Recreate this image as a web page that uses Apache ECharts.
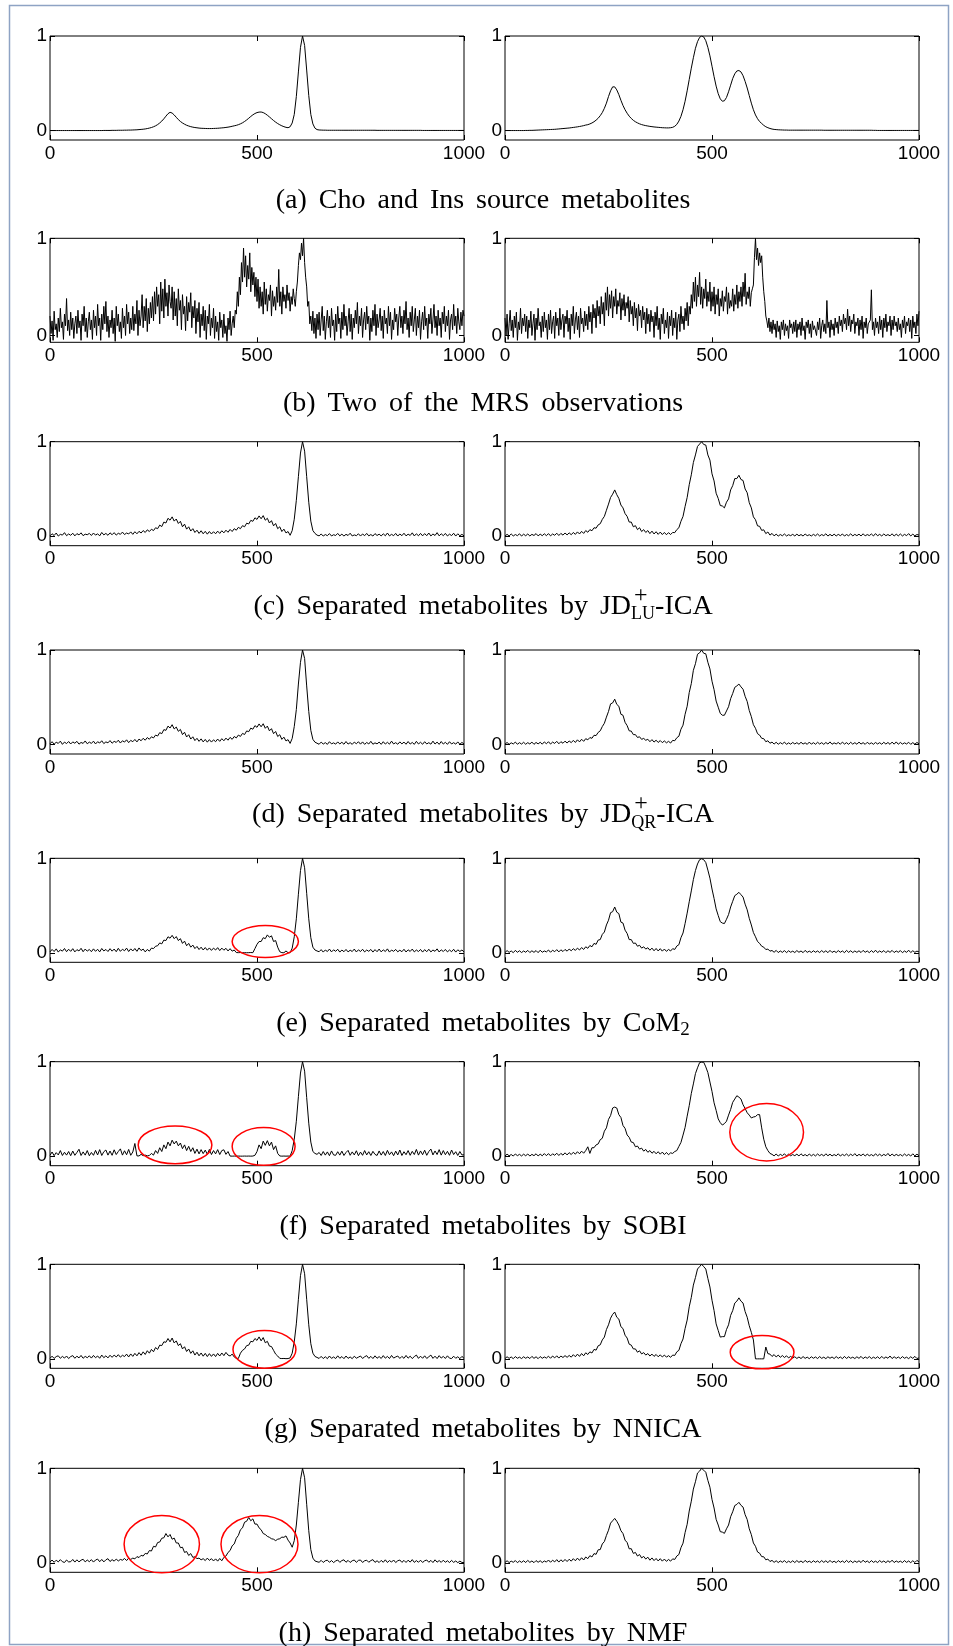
<!DOCTYPE html>
<html><head><meta charset="utf-8">
<script src="https://cdn.jsdelivr.net/npm/echarts@6.0.0/dist/echarts.min.js"></script>
<style>html,body{margin:0;padding:0;background:#fff}#c{width:953px;height:1646px}</style>
</head><body><div id="c"></div>
<script>
// sample spacing of the spectra (index -> x)
const xStep = 5;     // separated / source spectra
const xStepObs = 2.5; // noisy MRS observations
const xTicks = [0, 500, 1000];
const yTicks = [0, 1];

// (a) source metabolites
const A_L = [0,0,0,0,0,0,0,0,0,0,
0,0,0,0,0,0,0,0,0,0,
0,0,0,0,0,0,0.001,0.001,0.001,0.001,
0.002,0.002,0.002,0.003,0.003,0.003,0.004,0.004,0.005,0.005,
0.006,0.007,0.008,0.01,0.012,0.014,0.017,0.021,0.026,0.032,
0.04,0.05,0.063,0.08,0.1,0.124,0.152,0.178,0.193,0.185,
0.165,0.14,0.116,0.096,0.08,0.067,0.056,0.048,0.041,0.036,
0.032,0.029,0.026,0.024,0.023,0.022,0.021,0.021,0.021,0.022,
0.023,0.024,0.026,0.028,0.03,0.033,0.036,0.04,0.045,0.05,
0.055,0.062,0.071,0.082,0.096,0.112,0.13,0.149,0.166,0.18,
0.19,0.195,0.196,0.19,0.178,0.162,0.144,0.125,0.106,0.089,
0.074,0.061,0.05,0.041,0.034,0.03,0.04,0.08,0.17,0.36,
0.62,0.88,1,0.9,0.64,0.37,0.17,0.07,0.025,0.01,
0.006,0.005,0.004,0.004,0.003,0.003,0.003,0.003,0.003,0.003,
0.003,0.003,0.003,0.003,0.003,0.003,0.003,0.003,0.003,0.003,
0.003,0.003,0.003,0.003,0.003,0.003,0.003,0.003,0.002,0.002,
0.002,0.002,0.002,0.002,0.002,0.002,0.002,0.002,0.002,0.002,
0.002,0.002,0.002,0.002,0.002,0.002,0.002,0.002,0.002,0.002,
0.001,0.001,0.001,0.001,0.001,0.001,0.001,0.001,0.001,0.001,
0.001,0.001,0.001,0.001,0.001,0.001,0.001,0.001,0.001,0.001,
0.001];
const A_R = [0,0,0,0,0,0,0,0,0,0,
0.001,0.001,0.002,0.002,0.003,0.004,0.005,0.006,0.007,0.008,
0.009,0.01,0.011,0.012,0.013,0.015,0.017,0.019,0.021,0.023,
0.025,0.027,0.03,0.033,0.036,0.039,0.043,0.047,0.052,0.058,
0.062,0.07,0.08,0.093,0.11,0.13,0.157,0.19,0.235,0.29,
0.36,0.42,0.462,0.462,0.43,0.38,0.32,0.265,0.22,0.183,
0.152,0.128,0.108,0.093,0.081,0.071,0.063,0.057,0.052,0.048,
0.044,0.041,0.038,0.036,0.034,0.032,0.03,0.029,0.028,0.028,
0.03,0.034,0.045,0.065,0.1,0.15,0.22,0.31,0.42,0.54,
0.66,0.77,0.87,0.94,0.985,1,0.99,0.95,0.88,0.79,
0.68,0.57,0.47,0.39,0.335,0.31,0.315,0.35,0.41,0.48,
0.55,0.6,0.63,0.635,0.62,0.58,0.52,0.45,0.37,0.29,
0.22,0.165,0.125,0.095,0.075,0.055,0.04,0.03,0.022,0.016,
0.012,0.01,0.008,0.007,0.006,0.005,0.005,0.004,0.004,0.004,
0.004,0.004,0.004,0.004,0.004,0.004,0.004,0.004,0.004,0.004,
0.004,0.004,0.004,0.004,0.003,0.003,0.003,0.003,0.003,0.003,
0.003,0.003,0.003,0.003,0.003,0.003,0.003,0.003,0.003,0.003,
0.003,0.003,0.003,0.003,0.003,0.003,0.003,0.003,0.002,0.002,
0.001,0.001,0.001,0.001,0.001,0.001,0.001,0.001,0.001,0.001,
0.001,0.001,0.001,0.001,0.001,0.001,0.001,0.001,0.001,0.001,
0.001];

// (b) two MRS observations (x step 2.5)
const B_L = [0.2,0.02,0.15,-0.05,0.25,0.06,0.12,-0.02,0.18,0.04,0.28,0.08,0.14,-0.04,0.22,0.1,0.38,0.05,0.16,0.0,
0.24,0.06,0.18,-0.03,0.12,0.2,0.02,0.26,0.08,0.15,-0.05,0.22,0.1,0.3,0.04,0.18,-0.02,0.14,0.24,0.06,
0.16,-0.04,0.26,0.08,0.2,0.0,0.32,0.1,0.18,-0.05,0.22,0.06,0.3,0.12,0.35,0.04,0.2,-0.02,0.16,0.08,
0.26,0.02,0.18,-0.06,0.3,0.1,0.22,0.04,0.14,-0.03,0.28,0.08,0.2,0.0,0.32,0.12,0.24,0.02,0.18,0.06,
0.3,0.05,0.22,0.12,0.36,0.0,0.26,0.1,0.2,0.42,0.08,0.3,0.15,0.38,0.04,0.28,0.12,0.34,0.18,0.4,
0.15,0.45,0.22,0.5,0.3,0.42,0.12,0.55,0.25,0.48,0.18,0.58,0.3,0.44,0.2,0.52,0.35,0.28,0.5,0.16,
0.45,0.2,0.38,0.1,0.48,0.26,0.36,0.06,0.42,0.22,0.3,0.05,0.4,0.15,0.34,0.24,0.44,0.08,0.3,0.18,
0.36,0.02,0.28,0.14,0.34,-0.02,0.22,0.1,0.3,0.05,0.26,-0.04,0.2,0.12,0.32,0.0,0.18,0.08,0.28,-0.03,
0.2,0.04,0.14,-0.05,0.24,0.08,0.16,-0.02,0.22,0.02,0.1,-0.06,0.18,0.06,0.25,0.0,0.12,0.2,0.08,0.26,
0.22,0.45,0.3,0.6,0.42,0.75,0.55,0.9,0.6,0.82,0.5,0.72,0.58,0.85,0.45,0.7,0.52,0.65,0.4,0.6,
0.35,0.58,0.28,0.5,0.3,0.45,0.22,0.55,0.32,0.48,0.25,0.42,0.36,0.52,0.2,0.46,0.3,0.4,0.26,0.5,
0.34,0.68,0.3,0.45,0.22,0.5,0.35,0.42,0.28,0.52,0.36,0.44,0.25,0.4,0.32,0.48,0.38,0.3,0.45,0.55,
0.72,0.85,0.78,0.95,0.82,1,0.75,0.6,0.5,0.3,0.35,0.12,0.2,0.05,0.25,0.02,0.18,-0.03,0.22,0.06,
0.24,0.0,0.16,0.3,0.05,0.2,-0.04,0.14,0.26,0.08,0.2,-0.02,0.28,0.1,0.16,-0.05,0.22,0.04,0.3,0.12,
0.18,-0.03,0.24,0.06,0.32,0.1,0.2,0.0,0.14,0.28,0.04,0.22,-0.04,0.18,0.08,0.26,0.12,0.34,0.02,0.2,
0.1,0.28,-0.02,0.16,0.24,0.06,0.3,0.12,0.2,-0.05,0.18,0.04,0.26,0.1,0.32,0.0,0.22,0.08,0.16,0.28,
0.05,0.2,-0.03,0.26,0.12,0.18,0.02,0.3,0.1,0.24,-0.04,0.16,0.06,0.28,0.14,0.22,0.0,0.18,0.3,0.08,
0.2,0.02,0.26,0.12,0.35,0.06,0.18,-0.02,0.24,0.1,0.3,0.04,0.16,0.28,0.0,0.2,0.08,0.26,-0.04,0.14,
0.24,0.06,0.3,0.1,0.18,-0.03,0.22,0.12,0.28,0.02,0.16,0.32,0.08,0.2,0.0,0.26,0.1,0.18,-0.02,0.24,
0.12,0.3,0.04,0.2,0.1,0.26,-0.04,0.16,0.22,0.06,0.32,0.1,0.2,0.02,0.28,0.14,0.06,0.24,0.1,0.26,
0.2];
const B_R = [0.18,0.0,0.22,-0.04,0.12,0.26,0.05,0.16,-0.02,0.2,0.08,0.24,-0.05,0.14,0.06,0.28,0.02,0.18,0.1,0.22,
0.04,0.2,-0.03,0.16,0.08,0.25,0.0,0.12,0.22,-0.05,0.18,0.06,0.28,0.1,0.14,-0.02,0.2,0.04,0.24,0.08,
0.16,-0.04,0.22,0.06,0.26,0.02,0.14,0.2,-0.03,0.24,0.1,0.18,0.0,0.28,0.06,0.16,0.22,-0.02,0.2,0.12,
0.26,0.04,0.18,-0.04,0.22,0.1,0.3,0.02,0.16,0.24,0.06,0.2,-0.02,0.28,0.12,0.18,0.04,0.25,0.1,0.22,
0.06,0.3,0.14,0.24,0.02,0.32,0.18,0.28,0.08,0.36,0.2,0.3,0.12,0.4,0.22,0.34,0.1,0.44,0.26,0.5,
0.2,0.42,0.28,0.46,0.18,0.4,0.3,0.48,0.22,0.36,0.3,0.44,0.16,0.38,0.26,0.42,0.2,0.34,0.28,0.4,
0.14,0.36,0.22,0.3,0.1,0.34,0.18,0.28,0.05,0.32,0.2,0.26,0.08,0.3,0.16,0.24,0.02,0.28,0.12,0.22,
0.04,0.26,0.14,0.2,-0.02,0.24,0.1,0.3,0.06,0.18,-0.04,0.22,0.12,0.28,0.02,0.16,0.08,0.24,-0.03,0.2,
0.1,0.26,0.0,0.18,0.08,0.24,-0.04,0.16,0.22,0.04,0.3,0.12,0.2,0.06,0.28,0.15,0.34,0.1,0.3,0.22,
0.42,0.28,0.55,0.35,0.6,0.3,0.52,0.4,0.65,0.32,0.5,0.28,0.48,0.38,0.58,0.3,0.45,0.35,0.55,0.25,
0.45,0.3,0.5,0.22,0.42,0.32,0.48,0.2,0.38,0.3,0.46,0.25,0.4,0.35,0.5,0.22,0.44,0.28,0.36,0.3,
0.48,0.25,0.42,0.32,0.52,0.28,0.45,0.35,0.5,0.3,0.55,0.4,0.64,0.32,0.45,0.38,0.5,0.3,0.44,0.48,
0.52,0.8,1,0.78,0.9,0.72,0.85,0.75,0.82,0.6,0.45,0.35,0.2,0.15,0.08,0.18,0.04,0.14,0.02,0.16,
0.06,0.12,-0.02,0.15,0.04,0.1,-0.04,0.14,0.06,0.16,0.0,0.12,0.05,0.1,-0.03,0.16,0.08,0.12,0.02,0.14,
0.04,0.16,-0.02,0.12,0.06,0.14,0.0,0.18,0.05,0.1,-0.04,0.14,0.08,0.16,0.02,0.12,-0.02,0.15,0.06,0.1,
0.12,0.0,0.14,0.06,0.18,-0.03,0.1,0.16,0.04,0.12,0.02,0.36,0.08,0.14,-0.02,0.16,0.06,0.12,0.0,0.18,
0.08,0.14,0.02,0.2,0.1,0.16,0.04,0.22,0.12,0.18,0.06,0.27,0.1,0.2,0.04,0.16,0.12,0.22,0.02,0.14,
0.1,0.18,0.0,0.16,0.06,0.2,-0.03,0.14,0.08,0.18,0.02,0.12,0.1,0.16,0.47,0.06,0.14,0.0,0.18,0.08,
0.14,0.02,0.2,0.06,0.16,-0.02,0.18,0.08,0.22,0.04,0.14,0.1,0.2,0.0,0.16,0.06,0.2,0.1,0.14,0.04,
0.18,0.06,0.12,-0.02,0.16,0.08,0.2,0.02,0.14,0.1,0.18,0.04,0.16,-0.03,0.2,0.08,0.14,0.02,0.22,0.1,
0.25];

// (c) JD+LU-ICA
const C_L = [0.004,0.026,0.008,0.034,0.002,0.02,0.012,0.038,0.006,0.024,
0.01,0.032,0.004,0.028,0.014,0.036,0.006,0.022,0.016,0.03,
0.008,0.034,0.012,0.026,0.004,0.04,0.014,0.03,0.01,0.036,
0.016,0.038,0.012,0.032,0.02,0.044,0.018,0.034,0.024,0.046,
0.02,0.048,0.026,0.052,0.034,0.06,0.04,0.068,0.05,0.074,
0.06,0.09,0.08,0.118,0.102,0.15,0.14,0.19,0.17,0.205,
0.16,0.182,0.135,0.158,0.1,0.128,0.075,0.1,0.055,0.08,
0.04,0.064,0.03,0.058,0.026,0.052,0.022,0.05,0.024,0.048,
0.026,0.054,0.03,0.058,0.036,0.064,0.042,0.072,0.05,0.08,
0.064,0.094,0.08,0.112,0.1,0.138,0.13,0.168,0.158,0.195,
0.178,0.215,0.185,0.218,0.17,0.19,0.14,0.165,0.11,0.135,
0.08,0.1,0.05,0.075,0.035,0.05,0.01,0.06,0.18,0.38,
0.63,0.88,1,0.9,0.63,0.36,0.16,0.06,0.03,0.012,
0.004,0.024,0.002,0.018,0.006,0.028,0.003,0.016,0.008,0.03,
0.004,0.022,0.002,0.02,0.008,0.032,0.003,0.014,0.006,0.026,
0.002,0.024,0.006,0.03,0.004,0.018,0.002,0.028,0.008,0.022,
0.003,0.026,0.005,0.034,0.004,0.02,0.006,0.03,0.002,0.024,
0.006,0.032,0.004,0.022,0.008,0.036,0.003,0.026,0.005,0.03,
0.004,0.028,0.006,0.034,0.003,0.024,0.008,0.038,0.004,0.026,
0.006,0.03,0.003,0.022,0.007,0.032,0.002,0.026,0.005,0.02,
0.004];
const C_R = [0.002,0.02,0.004,0.024,0.003,0.018,0.006,0.026,0.002,0.022,
0.005,0.024,0.003,0.02,0.008,0.028,0.004,0.022,0.006,0.026,
0.006,0.028,0.004,0.024,0.01,0.032,0.008,0.03,0.012,0.034,
0.014,0.036,0.016,0.04,0.02,0.046,0.024,0.052,0.03,0.06,
0.042,0.07,0.058,0.09,0.085,0.12,0.132,0.178,0.21,0.275,
0.34,0.41,0.445,0.49,0.44,0.4,0.33,0.3,0.24,0.21,
0.15,0.15,0.1,0.112,0.07,0.09,0.05,0.07,0.04,0.06,
0.028,0.054,0.024,0.048,0.02,0.044,0.018,0.04,0.016,0.038,
0.018,0.04,0.038,0.07,0.09,0.158,0.21,0.315,0.41,0.545,
0.65,0.78,0.86,0.95,0.975,1,0.97,0.965,0.86,0.805,
0.66,0.585,0.455,0.4,0.325,0.32,0.3,0.36,0.395,0.49,
0.535,0.61,0.61,0.645,0.6,0.59,0.5,0.46,0.355,0.3,
0.205,0.175,0.11,0.105,0.062,0.068,0.028,0.045,0.012,0.03,
0.004,0.022,0.002,0.018,0.005,0.024,0.003,0.016,0.006,0.02,
0.003,0.022,0.005,0.018,0.002,0.024,0.006,0.016,0.003,0.02,
0.005,0.024,0.003,0.018,0.006,0.026,0.002,0.02,0.004,0.022,
0.003,0.02,0.006,0.024,0.002,0.018,0.005,0.026,0.003,0.02,
0.006,0.022,0.003,0.026,0.004,0.018,0.007,0.024,0.003,0.028,
0.005,0.02,0.003,0.024,0.006,0.018,0.004,0.026,0.002,0.022,
0.004,0.024,0.003,0.02,0.006,0.028,0.003,0.022,0.005,0.018,
0.012];

// (d) JD+QR-ICA
const D_L = [0.008,0.03,0.004,0.024,0.012,0.036,0.002,0.026,0.01,0.032,
0.006,0.028,0.014,0.034,0.004,0.022,0.012,0.038,0.008,0.026,
0.012,0.036,0.006,0.03,0.016,0.04,0.01,0.028,0.018,0.042,
0.014,0.034,0.022,0.046,0.016,0.04,0.026,0.05,0.02,0.044,
0.03,0.054,0.028,0.058,0.04,0.066,0.046,0.074,0.056,0.082,
0.07,0.1,0.09,0.126,0.115,0.158,0.15,0.195,0.175,0.21,
0.165,0.185,0.14,0.16,0.105,0.13,0.08,0.104,0.058,0.082,
0.042,0.066,0.034,0.06,0.028,0.054,0.025,0.052,0.026,0.05,
0.03,0.058,0.034,0.062,0.04,0.068,0.046,0.076,0.055,0.085,
0.07,0.1,0.086,0.118,0.106,0.144,0.136,0.174,0.162,0.2,
0.182,0.218,0.188,0.22,0.172,0.195,0.145,0.168,0.115,0.138,
0.085,0.104,0.055,0.078,0.038,0.052,0.012,0.065,0.19,0.37,
0.64,0.87,1,0.91,0.62,0.35,0.15,0.055,0.025,0.014,
0.003,0.026,0.005,0.02,0.002,0.03,0.007,0.018,0.004,0.028,
0.006,0.024,0.003,0.032,0.005,0.02,0.002,0.026,0.008,0.03,
0.004,0.028,0.002,0.022,0.006,0.034,0.003,0.018,0.007,0.026,
0.002,0.03,0.005,0.024,0.004,0.036,0.006,0.02,0.003,0.028,
0.007,0.026,0.003,0.032,0.005,0.022,0.002,0.034,0.006,0.024,
0.003,0.03,0.006,0.02,0.004,0.036,0.005,0.026,0.002,0.032,
0.005,0.024,0.002,0.03,0.006,0.02,0.004,0.028,0.003,0.022,
0.006];
const D_R = [0.004,0.022,0.002,0.018,0.006,0.026,0.003,0.02,0.005,0.024,
0.003,0.02,0.006,0.026,0.002,0.022,0.007,0.024,0.004,0.028,
0.008,0.03,0.005,0.026,0.012,0.034,0.008,0.03,0.014,0.036,
0.016,0.038,0.02,0.044,0.022,0.05,0.028,0.056,0.034,0.062,
0.05,0.074,0.066,0.098,0.095,0.128,0.145,0.19,0.225,0.29,
0.35,0.43,0.44,0.48,0.425,0.405,0.32,0.31,0.235,0.2,
0.145,0.142,0.105,0.105,0.075,0.082,0.055,0.065,0.045,0.056,
0.03,0.052,0.026,0.046,0.022,0.042,0.02,0.038,0.018,0.034,
0.016,0.044,0.04,0.072,0.088,0.162,0.205,0.32,0.405,0.55,
0.645,0.785,0.855,0.955,0.97,1,0.965,0.96,0.87,0.8,
0.67,0.58,0.46,0.395,0.33,0.31,0.31,0.355,0.4,0.485,
0.54,0.605,0.62,0.64,0.61,0.585,0.51,0.455,0.36,0.295,
0.21,0.172,0.115,0.1,0.066,0.062,0.03,0.04,0.014,0.026,
0.005,0.024,0.003,0.02,0.006,0.026,0.002,0.018,0.004,0.022,
0.006,0.02,0.003,0.024,0.005,0.018,0.002,0.026,0.004,0.02,
0.003,0.024,0.006,0.02,0.002,0.022,0.005,0.028,0.003,0.018,
0.006,0.022,0.003,0.026,0.005,0.02,0.002,0.024,0.004,0.02,
0.003,0.026,0.005,0.02,0.002,0.024,0.006,0.018,0.003,0.022,
0.006,0.02,0.003,0.024,0.005,0.022,0.002,0.026,0.004,0.028,
0.003,0.022,0.005,0.018,0.006,0.024,0.002,0.02,0.004,0.022,
0.008];

// (e) CoM2
const E_L = [0.01,0.036,0.014,0.042,0.008,0.032,0.018,0.046,0.012,0.038,
0.016,0.044,0.01,0.034,0.02,0.048,0.012,0.04,0.018,0.036,
0.012,0.042,0.016,0.038,0.01,0.046,0.02,0.036,0.014,0.044,
0.018,0.04,0.012,0.048,0.016,0.038,0.022,0.05,0.014,0.042,
0.02,0.046,0.016,0.052,0.024,0.04,0.01,0.036,0.018,0.05,
0.045,0.07,0.075,0.105,0.095,0.135,0.13,0.17,0.155,0.185,
0.15,0.172,0.13,0.15,0.1,0.124,0.075,0.1,0.06,0.082,
0.045,0.068,0.035,0.06,0.03,0.056,0.028,0.052,0.026,0.05,
0.03,0.055,0.024,0.05,0.028,0.048,0.02,0.044,0.018,0.03,
0.003,0.002,0.003,0.001,0.002,0.001,0.002,0.003,0.002,0.045,
0.09,0.12,0.12,0.16,0.15,0.19,0.165,0.18,0.12,0.13,
0.06,0.012,0.002,0.001,0.02,0.002,0.001,0.05,0.17,0.36,
0.62,0.87,1,0.9,0.63,0.36,0.16,0.06,0.03,0.02,
0.012,0.034,0.008,0.03,0.014,0.04,0.01,0.032,0.016,0.038,
0.008,0.03,0.012,0.036,0.01,0.028,0.014,0.04,0.009,0.032,
0.014,0.038,0.01,0.03,0.016,0.036,0.008,0.034,0.012,0.04,
0.01,0.032,0.014,0.042,0.008,0.03,0.016,0.036,0.011,0.028,
0.012,0.038,0.009,0.032,0.015,0.04,0.01,0.03,0.014,0.036,
0.008,0.034,0.012,0.038,0.01,0.03,0.016,0.042,0.009,0.032,
0.014,0.036,0.01,0.03,0.012,0.038,0.008,0.032,0.015,0.03,
0.01];
const E_R = [0.003,0.024,0.005,0.02,0.002,0.026,0.006,0.022,0.003,0.02,
0.006,0.026,0.003,0.022,0.005,0.024,0.002,0.028,0.006,0.02,
0.01,0.03,0.006,0.028,0.012,0.034,0.01,0.032,0.014,0.036,
0.018,0.04,0.022,0.044,0.026,0.05,0.03,0.056,0.036,0.064,
0.048,0.078,0.064,0.1,0.09,0.135,0.14,0.195,0.22,0.295,
0.345,0.425,0.435,0.485,0.43,0.415,0.325,0.315,0.24,0.205,
0.14,0.14,0.1,0.104,0.07,0.08,0.05,0.064,0.04,0.054,
0.028,0.05,0.022,0.046,0.02,0.044,0.018,0.04,0.016,0.036,
0.02,0.044,0.036,0.072,0.086,0.16,0.21,0.31,0.42,0.54,
0.655,0.775,0.87,0.94,0.985,0.995,0.985,0.955,0.875,0.79,
0.675,0.575,0.465,0.395,0.33,0.315,0.31,0.355,0.405,0.485,
0.545,0.605,0.62,0.64,0.615,0.59,0.515,0.455,0.365,0.295,
0.215,0.17,0.12,0.1,0.07,0.06,0.035,0.04,0.018,0.025,
0.006,0.026,0.003,0.02,0.005,0.024,0.002,0.022,0.006,0.018,
0.003,0.024,0.006,0.02,0.002,0.026,0.005,0.018,0.004,0.022,
0.006,0.02,0.003,0.024,0.005,0.022,0.002,0.026,0.004,0.018,
0.003,0.024,0.006,0.02,0.002,0.026,0.005,0.022,0.003,0.02,
0.005,0.022,0.003,0.026,0.006,0.02,0.002,0.024,0.004,0.028,
0.003,0.02,0.006,0.024,0.002,0.022,0.005,0.026,0.003,0.02,
0.006,0.024,0.002,0.02,0.005,0.028,0.003,0.022,0.006,0.018,
0.01];

// (f) SOBI
const F_L = [0.01,0.045,0.006,0.038,0.014,0.06,0.008,0.042,0.012,0.05,
0.006,0.055,0.01,0.04,0.074,0.008,0.046,0.012,0.06,0.005,
0.04,0.01,0.062,0.014,0.07,0.008,0.048,0.066,0.012,0.055,
0.01,0.068,0.018,0.05,0.078,0.012,0.058,0.016,0.072,0.01,
0.045,0.135,0.004,0.003,0.02,0.006,0.012,0.004,0.008,0.03,
0.012,0.06,0.03,0.09,0.05,0.12,0.08,0.15,0.11,0.17,
0.13,0.16,0.11,0.14,0.08,0.12,0.06,0.105,0.05,0.09,
0.03,0.075,0.025,0.07,0.028,0.065,0.02,0.072,0.018,0.06,
0.025,0.07,0.018,0.06,0.068,0.02,0.05,0.002,0.001,0.002,
0.001,0.002,0.001,0.001,0.002,0.001,0.002,0.001,0.002,0.01,
0.05,0.12,0.08,0.16,0.115,0.165,0.11,0.15,0.07,0.11,
0.03,0.003,0.001,0.002,0.001,0.002,0.001,0.06,0.18,0.37,
0.63,0.88,1,0.9,0.62,0.35,0.15,0.05,0.03,0.02,
0.04,0.008,0.05,0.012,0.046,0.006,0.056,0.014,0.01,0.048,
0.012,0.054,0.008,0.04,0.062,0.01,0.046,0.014,0.058,0.006,
0.044,0.01,0.06,0.014,0.048,0.008,0.052,0.02,0.008,0.056,
0.012,0.05,0.008,0.062,0.016,0.046,0.006,0.054,0.014,0.066,
0.008,0.048,0.016,0.06,0.01,0.052,0.018,0.072,0.012,0.056,
0.016,0.064,0.01,0.05,0.076,0.014,0.056,0.018,0.07,0.012,
0.06,0.016,0.052,0.01,0.066,0.018,0.048,0.008,0.05,0.014,
0.015];
const F_R = [0.003,0.022,0.005,0.018,0.002,0.024,0.006,0.02,0.003,0.022,
0.005,0.024,0.002,0.02,0.006,0.026,0.003,0.022,0.005,0.028,
0.006,0.028,0.004,0.026,0.01,0.032,0.008,0.03,0.012,0.036,
0.014,0.038,0.018,0.042,0.022,0.048,0.026,0.054,0.032,0.06,
0.1,0.03,0.09,0.09,0.12,0.13,0.175,0.19,0.265,0.3,
0.39,0.43,0.51,0.52,0.51,0.44,0.41,0.325,0.295,0.225,
0.2,0.15,0.145,0.1,0.108,0.075,0.086,0.054,0.072,0.042,
0.06,0.032,0.052,0.026,0.048,0.022,0.044,0.018,0.04,0.016,
0.036,0.03,0.05,0.06,0.104,0.146,0.224,0.305,0.424,0.535,
0.664,0.765,0.874,0.935,0.99,0.995,0.994,0.945,0.885,0.785,
0.685,0.565,0.485,0.395,0.355,0.33,0.345,0.37,0.435,0.495,
0.57,0.605,0.64,0.625,0.605,0.545,0.505,0.46,0.435,0.405,
0.415,0.42,0.44,0.44,0.3,0.18,0.1,0.06,0.03,0.02,
0.004,0.024,0.002,0.02,0.006,0.026,0.003,0.022,0.005,0.018,
0.006,0.022,0.003,0.026,0.005,0.018,0.002,0.024,0.004,0.02,
0.003,0.024,0.006,0.02,0.002,0.026,0.005,0.022,0.003,0.018,
0.005,0.026,0.002,0.02,0.006,0.024,0.003,0.022,0.005,0.028,
0.002,0.02,0.006,0.024,0.003,0.022,0.005,0.018,0.002,0.026,
0.005,0.022,0.003,0.02,0.006,0.03,0.002,0.024,0.004,0.02,
0.006,0.018,0.003,0.024,0.005,0.02,0.002,0.026,0.004,0.022,
0.006];

// (g) NNICA
const G_L = [0.006,0.028,0.004,0.024,0.032,0.006,0.026,0.008,0.03,0.003,
0.024,0.034,0.006,0.028,0.01,0.036,0.006,0.026,0.012,0.032,
0.008,0.036,0.012,0.03,0.006,0.04,0.012,0.032,0.01,0.038,
0.016,0.04,0.02,0.044,0.018,0.038,0.024,0.05,0.02,0.052,
0.026,0.058,0.032,0.066,0.038,0.074,0.046,0.086,0.06,0.1,
0.075,0.12,0.1,0.145,0.14,0.18,0.175,0.215,0.18,0.22,
0.168,0.19,0.14,0.16,0.105,0.128,0.078,0.104,0.058,0.085,
0.04,0.07,0.032,0.062,0.028,0.058,0.024,0.055,0.026,0.052,
0.024,0.058,0.03,0.062,0.034,0.068,0.04,0.03,0.05,0.02,
0.005,0.004,0.06,0.09,0.105,0.14,0.145,0.185,0.18,0.215,
0.195,0.232,0.19,0.225,0.17,0.185,0.135,0.13,0.09,0.05,
0.03,0.005,0.003,0.004,0.002,0.003,0.01,0.06,0.18,0.37,
0.63,0.88,1,0.9,0.63,0.36,0.16,0.06,0.025,0.015,
0.004,0.026,0.003,0.022,0.002,0.03,0.005,0.02,0.003,0.032,
0.006,0.024,0.002,0.03,0.005,0.02,0.002,0.028,0.007,0.018,
0.03,0.004,0.022,0.034,0.005,0.026,0.003,0.032,0.006,0.024,
0.004,0.034,0.007,0.026,0.003,0.036,0.008,0.02,0.03,0.004,
0.026,0.005,0.036,0.007,0.028,0.003,0.024,0.04,0.005,0.028,
0.006,0.032,0.004,0.022,0.04,0.005,0.028,0.003,0.034,0.008,
0.026,0.004,0.032,0.007,0.003,0.028,0.006,0.022,0.002,0.026,
0.005];
const G_R = [0.003,0.022,0.005,0.02,0.002,0.024,0.006,0.018,0.003,0.022,
0.006,0.02,0.003,0.026,0.005,0.022,0.002,0.024,0.006,0.02,
0.008,0.028,0.006,0.03,0.01,0.032,0.008,0.03,0.014,0.034,
0.016,0.036,0.018,0.044,0.022,0.05,0.026,0.056,0.032,0.064,
0.046,0.074,0.062,0.1,0.092,0.138,0.148,0.2,0.23,0.31,
0.36,0.43,0.47,0.495,0.44,0.42,0.34,0.32,0.25,0.22,
0.155,0.145,0.105,0.105,0.07,0.085,0.052,0.066,0.04,0.056,
0.03,0.05,0.026,0.046,0.022,0.042,0.02,0.04,0.018,0.034,
0.016,0.04,0.036,0.074,0.09,0.16,0.21,0.32,0.41,0.55,
0.65,0.78,0.86,0.95,0.975,1,0.975,0.95,0.85,0.76,
0.62,0.51,0.37,0.3,0.23,0.235,0.235,0.31,0.36,0.46,
0.51,0.59,0.61,0.645,0.61,0.59,0.5,0.44,0.35,0.28,
0.2,0,0,0,0,0,0.125,0.055,0.05,0.025,
0.045,0.02,0.04,0.016,0.035,0.014,0.032,0.01,0.026,0.008,
0.022,0.004,0.02,0.003,0.024,0.005,0.018,0.002,0.022,0.006,
0.02,0.003,0.024,0.005,0.018,0.002,0.022,0.006,0.02,0.003,
0.024,0.005,0.02,0.002,0.026,0.004,0.022,0.006,0.018,0.003,
0.022,0.005,0.026,0.002,0.02,0.006,0.024,0.003,0.018,0.005,
0.022,0.002,0.026,0.004,0.02,0.006,0.03,0.003,0.022,0.005,
0.02,0.003,0.024,0.006,0.018,0.002,0.022,0.005,0.026,0.003,
0.01];

// (h) NMF
const H_L = [0.008,0.03,0.006,0.028,0.01,0.034,0.012,0.004,0.03,0.01,
0.012,0.036,0.008,0.032,0.01,0.028,0.038,0.01,0.03,0.012,
0.034,0.008,0.03,0.04,0.012,0.036,0.01,0.032,0.044,0.014,
0.034,0.018,0.04,0.02,0.036,0.028,0.046,0.024,0.05,0.036,
0.05,0.042,0.066,0.056,0.08,0.072,0.1,0.094,0.13,0.125,
0.175,0.168,0.215,0.22,0.26,0.265,0.31,0.275,0.3,0.25,
0.262,0.21,0.21,0.16,0.165,0.11,0.12,0.078,0.098,0.058,
0.064,0.045,0.05,0.032,0.044,0.024,0.05,0.026,0.044,0.02,
0.042,0.018,0.046,0.022,0.058,0.072,0.11,0.13,0.18,0.2,
0.26,0.29,0.35,0.37,0.43,0.44,0.48,0.445,0.465,0.41,
0.41,0.37,0.35,0.31,0.3,0.28,0.27,0.255,0.25,0.235,
0.25,0.255,0.272,0.27,0.285,0.24,0.21,0.165,0.235,0.4,
0.64,0.88,1,0.9,0.62,0.34,0.14,0.05,0.02,0.012,
0.006,0.026,0.004,0.022,0.028,0.006,0.024,0.003,0.02,0.03,
0.005,0.024,0.032,0.006,0.026,0.004,0.022,0.03,0.005,0.026,
0.03,0.004,0.022,0.028,0.006,0.024,0.034,0.005,0.022,0.003,
0.026,0.006,0.032,0.004,0.024,0.008,0.03,0.003,0.022,0.03,
0.005,0.026,0.004,0.028,0.008,0.034,0.005,0.024,0.006,0.028,
0.004,0.022,0.03,0.006,0.026,0.003,0.032,0.007,0.024,0.005,
0.028,0.006,0.022,0.003,0.026,0.005,0.02,0.002,0.018,0.004,
0.003];
const H_R = [0.004,0.022,0.003,0.018,0.006,0.024,0.002,0.02,0.005,0.022,
0.003,0.026,0.005,0.02,0.002,0.024,0.006,0.022,0.003,0.02,
0.008,0.03,0.006,0.028,0.01,0.034,0.008,0.032,0.012,0.036,
0.014,0.038,0.018,0.044,0.022,0.05,0.026,0.054,0.03,0.062,
0.044,0.076,0.062,0.098,0.09,0.138,0.14,0.2,0.225,0.29,
0.345,0.42,0.445,0.47,0.44,0.4,0.34,0.31,0.24,0.215,
0.148,0.15,0.1,0.11,0.072,0.088,0.052,0.068,0.04,0.06,
0.028,0.052,0.024,0.046,0.02,0.044,0.018,0.04,0.016,0.036,
0.018,0.042,0.036,0.072,0.088,0.16,0.208,0.32,0.408,0.548,
0.652,0.78,0.858,0.95,0.97,1,0.98,0.958,0.872,0.8,
0.67,0.58,0.46,0.4,0.33,0.325,0.312,0.36,0.4,0.488,
0.54,0.606,0.618,0.64,0.608,0.59,0.51,0.458,0.36,0.298,
0.21,0.175,0.115,0.102,0.066,0.064,0.032,0.04,0.014,0.026,
0.005,0.022,0.003,0.02,0.006,0.024,0.002,0.018,0.004,0.022,
0.003,0.024,0.005,0.02,0.002,0.026,0.006,0.018,0.003,0.022,
0.006,0.02,0.003,0.024,0.005,0.022,0.002,0.026,0.004,0.018,
0.002,0.024,0.006,0.02,0.003,0.026,0.005,0.022,0.002,0.02,
0.005,0.022,0.003,0.028,0.006,0.02,0.002,0.024,0.005,0.018,
0.003,0.024,0.006,0.02,0.002,0.022,0.005,0.028,0.003,0.02,
0.006,0.018,0.003,0.024,0.005,0.02,0.002,0.022,0.004,0.026,
0.009];

// red ellipse annotations: [centre x, centre y, radius x, radius y] in data units
const ellE_L = [[520, 0.12, 80, 0.17]];
const ellF_L = [[302, 0.12, 89, 0.2], [516, 0.104, 76, 0.2]];
const ellF_R = [[632, 0.254, 89, 0.303]];
const ellG_L = [[518, 0.1, 76, 0.2]];
const ellG_R = [[621, 0.07, 77, 0.176]];
const ellH_L = [[270, 0.197, 91, 0.303], [506, 0.197, 93, 0.303]];

const captions = [
  '(a) Cho and Ins source metabolites',
  '(b) Two of the MRS observations',
  '(c) Separated metabolites by JD^+_LU-ICA',
  '(d) Separated metabolites by JD^+_QR-ICA',
  '(e) Separated metabolites by CoM_2',
  '(f) Separated metabolites by SOBI',
  '(g) Separated metabolites by NNICA',
  '(h) Separated metabolites by NMF'
];

const rows = [
  {L: A_L, R: A_R, step: xStep, ymin: -0.1, eL: null, eR: null},
  {L: B_L, R: B_R, step: xStepObs, ymin: -0.07, eL: null, eR: null},
  {L: C_L, R: C_R, step: xStep, ymin: -0.1, eL: null, eR: null},
  {L: D_L, R: D_R, step: xStep, ymin: -0.1, eL: null, eR: null},
  {L: E_L, R: E_R, step: xStep, ymin: -0.1, eL: ellE_L, eR: null},
  {L: F_L, R: F_R, step: xStep, ymin: -0.1, eL: ellF_L, eR: ellF_R},
  {L: G_L, R: G_R, step: xStep, ymin: -0.1, eL: ellG_L, eR: ellG_R},
  {L: H_L, R: H_R, step: xStep, ymin: -0.1, eL: ellH_L, eR: null}
];

// layout
const rowTops = [36, 238.3, 441.7, 650, 858.3, 1061.7, 1264.3, 1468.3];
const colLefts = [50, 505];
const GW = 414, GH = 104;
const LABEL_FONT = 'Liberation Sans';
const SERIF = 'Liberation Serif';

const grid = [], xAxis = [], yAxis = [], series = [], graphic = [];
const tickStyle = {show: true, inside: true, length: 5, lineStyle: {color: '#000', width: 1}};
const fmt = v => String(v);

rows.forEach((r, ri) => {
  [[r.L, r.eL], [r.R, r.eR]].forEach(([arr, ell], ci) => {
    const gi = grid.length;
    grid.push({left: colLefts[ci], top: rowTops[ri], width: GW, height: GH,
      show: true, borderColor: '#000', borderWidth: 1, backgroundColor: 'transparent'});
    xAxis.push({type: 'value', gridIndex: gi, min: 0, max: 1000, position: 'bottom',
      axisLine: {show: false, onZero: false}, splitLine: {show: false},
      axisTick: Object.assign({customValues: xTicks}, tickStyle),
      axisLabel: {customValues: xTicks, formatter: fmt, fontFamily: LABEL_FONT, fontSize: 19, color: '#000', margin: 4}});
    xAxis.push({type: 'value', gridIndex: gi, min: 0, max: 1000, position: 'top',
      axisLine: {show: false, onZero: false}, splitLine: {show: false},
      axisTick: Object.assign({customValues: xTicks}, tickStyle),
      axisLabel: {show: false}});
    yAxis.push({type: 'value', gridIndex: gi, min: r.ymin, max: 1, position: 'left',
      axisLine: {show: false, onZero: false}, splitLine: {show: false},
      axisTick: Object.assign({customValues: yTicks}, tickStyle),
      axisLabel: {customValues: yTicks, formatter: fmt, fontFamily: LABEL_FONT, fontSize: 19, color: '#000', margin: 3}});
    yAxis.push({type: 'value', gridIndex: gi, min: r.ymin, max: 1, position: 'right',
      axisLine: {show: false, onZero: false}, splitLine: {show: false},
      axisTick: Object.assign({customValues: yTicks}, tickStyle),
      axisLabel: {show: false}});
    series.push({type: 'line', xAxisIndex: 2 * gi, yAxisIndex: 2 * gi,
      data: arr.map((v, i) => [i * r.step, v]),
      showSymbol: false, symbol: 'none', clip: true, silent: true,
      lineStyle: {color: '#000', width: 1}});
    if (ell) {
      series.push({type: 'custom', xAxisIndex: 2 * gi, yAxisIndex: 2 * gi, data: ell,
        clip: false, silent: true, z: 5,
        renderItem: (params, api) => {
          const c = api.coord([api.value(0), api.value(1)]);
          const s = api.size([api.value(2), api.value(3)]);
          return {type: 'ellipse', shape: {cx: c[0], cy: c[1], rx: s[0], ry: s[1]},
            style: {fill: null, stroke: '#ff0000', lineWidth: 1.5}};
        }});
    }
  });
});

// captions: words with LaTeX-like sub/superscripts, laid out piece by piece
const MAIN = 28, SPACE = 12;
const mctx = document.createElement('canvas').getContext('2d');
function tw(t, size) { mctx.font = size + 'px "' + SERIF + '"'; return mctx.measureText(t).width; }
function captionPieces(cap) {
  const pieces = [];
  cap.split(' ').forEach((w, wi) => {
    if (wi > 0) pieces.push({gap: SPACE});
    let m = w.match(/^(.*)\^(.)_([A-Z]+)(.*)$/);
    if (m) {
      pieces.push({t: m[1], s: MAIN, dy: 0});
      pieces.push({t: m[2], s: 24, dy: -11, dx: 3, noAdv: true});
      pieces.push({t: m[3], s: 18, dy: 8});
      pieces.push({t: m[4], s: MAIN, dy: 0});
      return;
    }
    m = w.match(/^(.*)_(\w)$/);
    if (m) {
      pieces.push({t: m[1], s: MAIN, dy: 0});
      pieces.push({t: m[2], s: 19, dy: 7});
      return;
    }
    pieces.push({t: w, s: MAIN, dy: 0});
  });
  return pieces;
}
captions.forEach((cap, i) => {
  const pieces = captionPieces(cap);
  let total = 0;
  pieces.forEach(p => { if (p.gap) total += p.gap; else if (!p.noAdv) total += tw(p.t, p.s); });
  let x = 483 - total / 2;
  const y = rowTops[i] + 165;
  pieces.forEach(p => {
    if (p.gap) { x += p.gap; return; }
    graphic.push({type: 'text', x: x + (p.dx || 0), y: y + p.dy, silent: true,
      style: {text: p.t, fill: '#000', font: p.s + 'px "' + SERIF + '"', align: 'left', verticalAlign: 'middle'}});
    if (!p.noAdv) x += tw(p.t, p.s);
  });
});
graphic.push({type: 'rect', silent: true, z: -1,
  shape: {x: 9.5, y: 5.5, width: 939, height: 1639},
  style: {fill: null, stroke: '#8ea3c4', lineWidth: 1.5}});

const chart = echarts.init(document.getElementById('c'), null, {renderer: 'canvas', width: 953, height: 1646});
chart.setOption({animation: false, backgroundColor: '#fff', grid, xAxis, yAxis, series, graphic});
</script></body></html>
